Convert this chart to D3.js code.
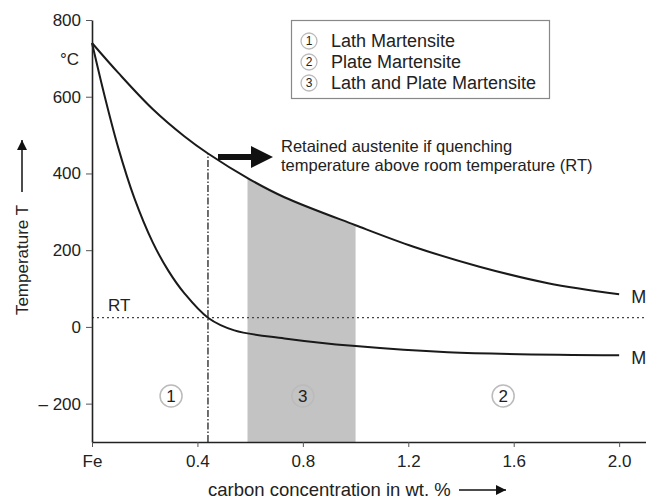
<!DOCTYPE html>
<html>
<head>
<meta charset="utf-8">
<script src="https://cdn.jsdelivr.net/npm/d3@7"></script>
<style>
  body { margin: 0; background: #fff; }
  svg text { font-family: "Liberation Sans", Arial, sans-serif; fill: #222; }
</style>
</head>
<body>
<div id="chart"></div>
<script>
// Martensite start temperature curves
var upperCarbon = [0, 0.1, 0.23, 0.35, 0.44, 0.6, 0.73, 1.0, 1.22, 1.47, 1.73, 2.0];
var upperTemp   = [740, 662, 568, 497, 452, 384, 338, 265, 209, 157, 114, 85];

var lowerCarbon = [0, 0.05, 0.1, 0.16, 0.23, 0.29, 0.35, 0.44, 0.54, 0.73, 1.0, 1.35, 2.0];
var lowerTemp   = [740, 596, 466, 337, 221, 146, 88, 24, -9, -30, -50, -66, -74];

var roomTemp = 24;
var lathLimit = 0.44;          // vertical dash-dot line
var mixedRange = [0.59, 1.0];  // shaded zone 3

var xTicks = [0, 0.4, 0.8, 1.2, 1.6, 2.0];
var yTicks = [-200, 0, 200, 400, 600, 800];

var legendNums = ["1", "2", "3"];
var legendLabels = ["Lath Martensite", "Plate Martensite", "Lath and Plate Martensite"];

var zoneNums = ["1", "3", "2"];
var zoneCarbon = [0.3, 0.8, 1.56];
var zoneTemp = -180;

var W = 646, H = 500;
var margin = {top: 20, left: 92, right: 0, bottom: 58};

var svg = d3.select("#chart").append("svg")
    .attr("width", W)
    .attr("height", H);

var x = d3.scaleLinear().domain([0, 2.1]).range([margin.left, 645.5]);
var y = d3.scaleLinear().domain([-300, 800]).range([H - margin.bottom, margin.top]);

var upper = upperCarbon.map(function(c, i) { return [c, upperTemp[i]]; });
var lower = lowerCarbon.map(function(c, i) { return [c, lowerTemp[i]]; });

var curve = d3.curveCatmullRom.alpha(0.5);

// shaded zone: area under the upper curve, clipped to the mixed range
svg.append("clipPath").attr("id", "zone3")
  .append("rect")
    .attr("x", x(mixedRange[0]))
    .attr("width", x(mixedRange[1]) - x(mixedRange[0]))
    .attr("y", 0)
    .attr("height", H);

svg.append("path")
    .datum(upper)
    .attr("clip-path", "url(#zone3)")
    .attr("fill", "#c3c3c3")
    .attr("d", d3.area()
        .x(function(d) { return x(d[0]); })
        .y0(y(-300))
        .y1(function(d) { return y(d[1]); })
        .curve(curve));

// room temperature line
svg.append("line")
    .attr("x1", x(0)).attr("x2", W)
    .attr("y1", y(roomTemp)).attr("y2", y(roomTemp))
    .attr("stroke", "#444").attr("stroke-width", 1.3)
    .attr("stroke-dasharray", "2,3");

svg.append("text")
    .attr("x", 108).attr("y", y(roomTemp) - 7)
    .attr("font-size", 17)
    .text("RT");

// dash-dot line
svg.append("line")
    .attr("x1", x(lathLimit)).attr("x2", x(lathLimit))
    .attr("y1", y(-300)).attr("y2", y(upperTemp[upperCarbon.indexOf(lathLimit)]))
    .attr("stroke", "#222").attr("stroke-width", 1.3)
    .attr("stroke-dasharray", "7,2,1.5,2");

var line = d3.line()
    .x(function(d) { return x(d[0]); })
    .y(function(d) { return y(d[1]); })
    .curve(curve);

[upper, lower].forEach(function(data) {
  svg.append("path")
      .datum(data)
      .attr("fill", "none")
      .attr("stroke", "#1a1a1a")
      .attr("stroke-width", 2)
      .attr("d", line);
  svg.append("text")
      .attr("x", x(data[data.length - 1][0]) + 12)
      .attr("y", y(data[data.length - 1][1]) + 9)
      .attr("font-size", 18)
      .text("M");
});

// axes
var yAxis = svg.append("g")
    .attr("transform", "translate(" + x(0) + ",0)")
    .call(d3.axisLeft(y).tickValues(yTicks).tickSize(6).tickSizeOuter(0)
      .tickFormat(function(d) { return d < 0 ? "\u2013 " + Math.abs(d) : d; }));

var xAxis = svg.append("g")
    .attr("transform", "translate(0," + y(-300) + ")")
    .call(d3.axisBottom(x).tickValues(xTicks).tickSize(5).tickSizeOuter(0)
      .tickFormat(function(d) { return d === 0 ? "Fe" : d3.format(".1f")(d); }));

[xAxis, yAxis].forEach(function(g) {
  g.select(".domain").attr("stroke", "#222").attr("stroke-width", 1.6);
  g.selectAll(".tick line").attr("stroke", "#555").attr("stroke-width", 1);
  g.selectAll(".tick text")
      .attr("font-family", "Liberation Sans, Arial, sans-serif")
      .attr("font-size", 17)
      .attr("fill", "#222");
});
yAxis.selectAll(".tick text").attr("x", -11);
xAxis.selectAll(".tick text").attr("y", 13);

svg.append("text")
    .attr("x", 60).attr("y", 65)
    .attr("font-size", 17)
    .text("\u00b0C");

// axis titles with arrows
svg.append("defs").append("marker")
    .attr("id", "head")
    .attr("viewBox", "0 0 10 10")
    .attr("refX", 10).attr("refY", 5)
    .attr("markerWidth", 10).attr("markerHeight", 10)
    .attr("markerUnits", "userSpaceOnUse")
    .attr("orient", "auto")
  .append("path")
    .attr("d", "M0,0L10,5L0,10Z")
    .attr("fill", "#111");

svg.append("text")
    .attr("transform", "translate(28,260) rotate(-90)")
    .attr("text-anchor", "middle")
    .attr("font-size", 17)
    .text("Temperature T");

svg.append("line")
    .attr("x1", 22).attr("x2", 22)
    .attr("y1", 192).attr("y2", 140)
    .attr("stroke", "#111").attr("stroke-width", 1.5)
    .attr("marker-end", "url(#head)");

svg.append("text")
    .attr("x", 208).attr("y", 496)
    .attr("font-size", 18.5)
    .text("carbon concentration in wt. %");

svg.append("line")
    .attr("x1", 459).attr("x2", 506)
    .attr("y1", 490).attr("y2", 490)
    .attr("stroke", "#111").attr("stroke-width", 1.5)
    .attr("marker-end", "url(#head)");

// retained austenite note
svg.append("path")
    .attr("d", "M218,154L251,154L251,146L273,157L251,168L251,160L218,160Z")
    .attr("fill", "#111");

var note = svg.append("text")
    .attr("font-size", 16.5)
    .attr("x", 281).attr("y", 152);
note.append("tspan").attr("x", 281).text("Retained austenite if quenching");
note.append("tspan").attr("x", 281).attr("dy", 18.5).text("temperature above room temperature (RT)");

// zone markers
zoneNums.forEach(function(n, i) {
  var g = svg.append("g")
      .attr("transform", "translate(" + x(zoneCarbon[i]) + "," + y(zoneTemp) + ")");
  g.append("circle").attr("r", 11)
      .attr("fill", "none").attr("stroke", "#bbb").attr("stroke-width", 1.5);
  g.append("text").attr("text-anchor", "middle").attr("dy", "0.36em")
      .attr("font-size", 17).attr("fill", "#333").text(n);
});

// legend
var legend = svg.append("g").attr("transform", "translate(291,20)");
legend.append("rect")
    .attr("x", 0.5).attr("y", 0.5)
    .attr("width", 258).attr("height", 78)
    .attr("fill", "#fff").attr("stroke", "#888").attr("stroke-width", 1.2);

legendLabels.forEach(function(lab, i) {
  var row = legend.append("g").attr("transform", "translate(18," + (21 + i * 21) + ")");
  row.append("circle").attr("r", 8)
      .attr("fill", "none").attr("stroke", "#bbb").attr("stroke-width", 1.3);
  row.append("text").attr("text-anchor", "middle").attr("dy", "0.36em")
      .attr("font-size", 12).attr("fill", "#333").text(legendNums[i]);
  row.append("text").attr("x", 22).attr("dy", "0.36em")
      .attr("font-size", 18).text(lab);
});
</script>
</body>
</html>
